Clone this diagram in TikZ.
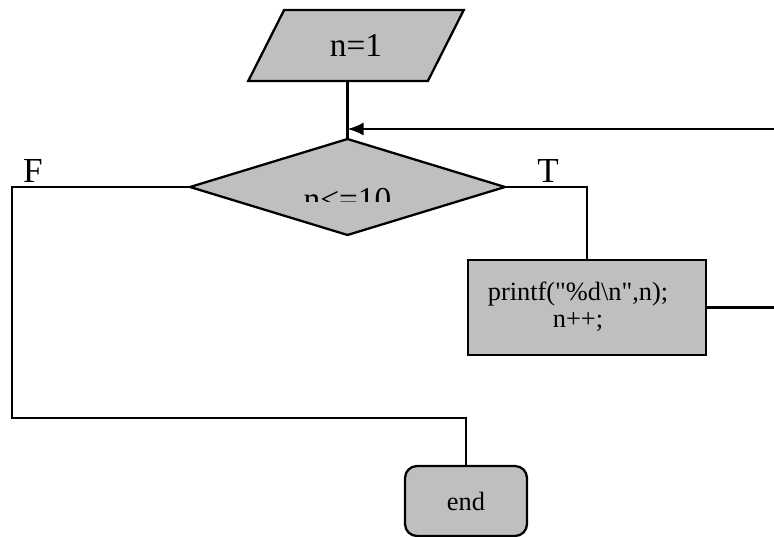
\documentclass[tikz,border=0pt]{standalone}
\usepackage{fontspec}
\setmainfont{Liberation Serif}
\usetikzlibrary{shapes.geometric,arrows.meta}

\begin{document}
\begin{tikzpicture}[x=0.02cm, y=-0.02cm, line width=1.3pt,
		box/.style={draw, fill=black!25, outer sep=0pt, inner sep=0pt},
		io/.style={box, trapezium, trapezium left angle=59.4, trapezium right angle=120.6, trapezium stretches=true, minimum width=4.32cm, minimum height=1.42cm},
		test/.style={box, diamond, minimum width=6.3cm, minimum height=1.92cm},
		proc/.style={box, rectangle, minimum width=4.76cm, minimum height=1.9cm},
		term/.style={box, rectangle, rounded corners=0.24cm, minimum width=2.44cm, minimum height=1.4cm},
		big/.style={font=\fontsize{19}{21}\selectfont},
		small/.style={font=\fontsize{15}{15.5}\selectfont}]
	\useasboundingbox (0,0) rectangle (774,537);
	% shapes
	\node[io, big] (input) at (356,45.5) {n=1};
	\node[test] (cond) at (347.5,187) {};
	\begin{scope}
		\clip (190,150) rectangle (505,201);
		\node[big, anchor=base, inner sep=0pt] (condtext) at (347.5,210) {n<=10};
	\end{scope}
	\node[proc] (body) at (587,307.5) {};
	\node[small, align=center, inner sep=0pt] (bodytext) at (578,307) {printf(\textquotedbl\%d\textbackslash n\textquotedbl,n);\\n++;};
	\node[term, small] (fin) at (466,501) {end};
	% wires
	\coordinate (back) at (774,129);
	\coordinate (loopout) at (774,307);
	\coordinate (fleft) at (12,187);
	\coordinate (fbottom) at (12,418);
	\draw (input.south -| cond.north) -- (cond.north);
	\draw[-{Latex[length=0.32cm, width=0.26cm]}] (back) -- (back -| cond.north);
	\draw (cond.east) -| (body.north);
	\draw (body.east) -- (body.east -| loopout);
	\draw (cond.west) -- (fleft) -- (fbottom) -| (fin.north);
	% labels
	\node[font=\fontsize{20}{22}\selectfont, anchor=base, inner sep=0pt] (flabel) at (33,182) {F};
	\node[font=\fontsize{20}{22}\selectfont, anchor=base, inner sep=0pt] (tlabel) at (548,182) {T};
\end{tikzpicture}
\end{document}
